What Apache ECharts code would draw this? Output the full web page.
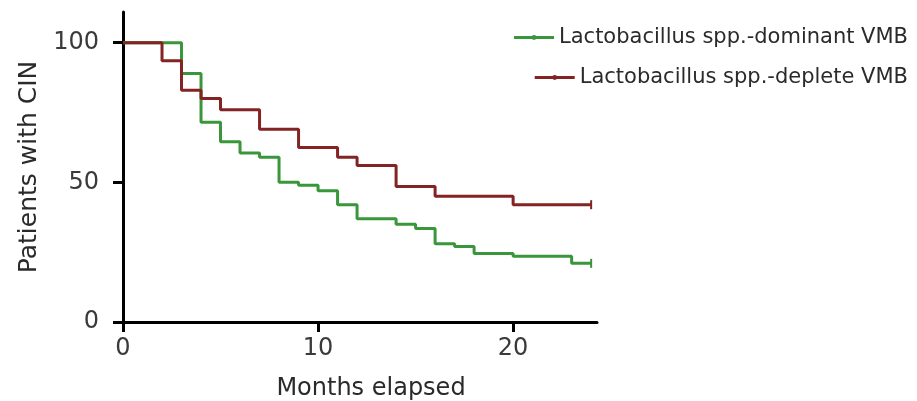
<!DOCTYPE html>
<html>
<head>
<meta charset="utf-8">
<script src="https://cdn.jsdelivr.net/npm/echarts@6/dist/echarts.min.js"></script>
<style>
  html, body { margin: 0; padding: 0; background: #fff; }
  #chart { width: 917px; height: 401px; }
</style>
</head>
<body>
<div id="chart"></div>
<script>
// survival curves (months, % patients with CIN)
const dominantName = "Lactobacillus spp.-dominant VMB";
const depleteName = "Lactobacillus spp.-deplete VMB";

const dominantMonths = [0, 3, 4, 5, 6, 7, 8, 9, 10, 11, 12, 14, 15, 16, 17, 18, 20, 23, 24];
const dominantValues = [100, 89, 71.5, 64.5, 60.5, 59, 50, 49, 47, 42, 37, 35, 33.5, 28, 27, 24.5, 23.5, 21, 21];

const depleteMonths = [0, 2, 3, 4, 5, 7, 9, 11, 12, 14, 16, 20, 24];
const depleteValues = [100, 93.5, 83, 80, 76, 69, 62.5, 59, 56, 48.5, 45, 42, 42];

const xTicks = [0, 10, 20];
const yTicks = [0, 50, 100];

const toPoints = (xs, ys) => xs.map((x, i) => [x, ys[i]]);

const chart = echarts.init(document.getElementById("chart"));

function stepSeries(name, xs, ys, color) {
  const last = xs.length - 1;
  return {
    name: name,
    type: "line",
    step: "end",
    data: toPoints(xs, ys),
    symbol: (v, p) => (p.dataIndex === last ? "rect" : "none"),
    symbolSize: [2, 9],
    lineStyle: { color: color, width: 3 },
    itemStyle: { color: color },
    z: 3,
  };
}

function legendFor(name, top) {
  return {
    data: [name],
    right: 4,
    top: top,
    itemWidth: 40,
    itemHeight: 6,
    itemGap: 7,
    itemStyle: { borderWidth: 0 },
    lineStyle: { width: 3 },
    textStyle: { fontSize: 21, color: "#2a2a2a", fontFamily: "DejaVu Sans" },
  };
}

const option = {
  animation: false,
  textStyle: { fontFamily: "DejaVu Sans, sans-serif" },
  legend: [legendFor(dominantName, 22), legendFor(depleteName, 62)],
  grid: {
    left: 123,
    right: 320,
    top: 12,
    bottom: 79,
    outerBoundsMode: "none",
  },
  xAxis: {
    type: "value",
    min: 0,
    max: 24.3,
    interval: 10,
    name: "Months elapsed",
    nameLocation: "middle",
    nameGap: 55,
    nameTextStyle: { fontSize: 24, color: "#2a2a2a", padding: [0, 0, 0, 22] },
    axisLine: { lineStyle: { color: "#000", width: 3 } },
    axisTick: {
      length: 10,
      lineStyle: { color: "#000", width: 3 },
      customValues: xTicks,
    },
    axisLabel: {
      fontSize: 24,
      color: "#3a3a3a",
      margin: 15,
      customValues: xTicks,
    },
    splitLine: { show: false },
  },
  yAxis: {
    type: "value",
    min: 0,
    max: 111,
    interval: 50,
    name: "Patients with CIN",
    nameLocation: "middle",
    nameGap: 80,
    nameTextStyle: { fontSize: 25, color: "#2a2a2a" },
    axisLine: { show: true, lineStyle: { color: "#000", width: 3 } },
    axisTick: {
      show: true,
      length: 10,
      lineStyle: { color: "#000", width: 3 },
      customValues: yTicks,
    },
    axisLabel: {
      fontSize: 24,
      color: "#3a3a3a",
      margin: 24,
      customValues: yTicks,
    },
    splitLine: { show: false },
  },
  series: [
    stepSeries(dominantName, dominantMonths, dominantValues, "#3a963a"),
    stepSeries(depleteName, depleteMonths, depleteValues, "#832323"),
  ],
};

chart.setOption(option);
</script>
</body>
</html>
